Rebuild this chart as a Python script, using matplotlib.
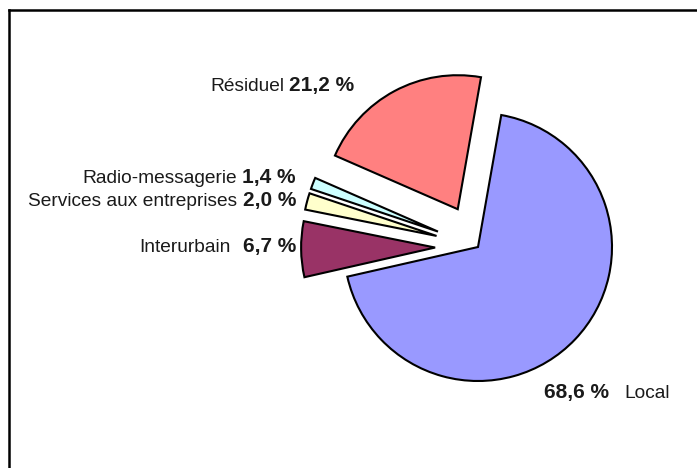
import matplotlib
matplotlib.use('Agg')
import matplotlib.pyplot as plt
from matplotlib.lines import Line2D

plt.rcParams['font.family'] = ['Liberation Sans', 'DejaVu Sans']

# order follows the pie, counter-clockwise from the Local/Résiduel border
names = ['Résiduel', 'Radio-messagerie', 'Services aux entreprises', 'Interurbain', 'Local']
shares = [21.2, 1.4, 2.0, 6.7, 68.6]
pct_labels = ['21,2 %', '1,4 %', '2,0 %', '6,7 %', '68,6 %']
colors = ['#FF8080', '#CCFFFF', '#FFFFCC', '#993366', '#9999FF']
explode = [0.32, 0.32, 0.32, 0.32, 0.0]

W, H = 697, 468
fig = plt.figure(figsize=(W / 100, H / 100), dpi=100)

# pie centre and radius in image pixels
cx, cy, r = 478, 247, 134
ax = fig.add_axes([0, 0, 1, 1])
ax.pie(shares, colors=colors, explode=explode, startangle=80, counterclock=True,
       radius=1, center=(0, 0),
       wedgeprops=dict(edgecolor='black', linewidth=1.5))
ax.set_xlim(-cx / r, (W - cx) / r)
ax.set_ylim(-(H - cy) / r, cy / r)
ax.set_aspect('equal')
ax.axis('off')

# chart frame (only left and top edges visible in the crop)
fig.add_artist(Line2D([8.5 / W, 8.5 / W], [0, 1 - 10 / H], color='black', lw=1.8,
                      transform=fig.transFigure))
fig.add_artist(Line2D([8.5 / W, 1], [1 - 10 / H, 1 - 10 / H], color='black', lw=1.8,
                      transform=fig.transFigure))

renderer = fig.canvas.get_renderer()
TXT = '#1a1a1a'


def fx(x):
    return x / W


def fy(y):
    return 1 - y / H


def label(x, y, name, pct, gap, name_first=True):
    # x: right edge of the bold value if name_first, else its left edge
    if name_first:
        b = fig.text(fx(x), fy(y), pct, fontsize=15, fontweight='bold', color=TXT,
                     ha='right', va='baseline')
        ext = b.get_window_extent(renderer)
        fig.text(fx(ext.x0 - gap), fy(y), name, fontsize=13.8, color=TXT,
                 ha='right', va='baseline')
    else:
        b = fig.text(fx(x), fy(y), pct, fontsize=15, fontweight='bold', color=TXT,
                     ha='left', va='baseline')
        ext = b.get_window_extent(renderer)
        fig.text(fx(ext.x1 + gap), fy(y), name, fontsize=13.8, color=TXT,
                 ha='left', va='baseline')


label(354, 91, names[0], pct_labels[0], 5)
label(296, 183, names[1], pct_labels[1], 6)
label(296, 206, names[2], pct_labels[2], 6)
label(296, 252, names[3], pct_labels[3], 12)
label(544, 398, names[4], pct_labels[4], 15, name_first=False)

fig.savefig('out.png', dpi=100)
